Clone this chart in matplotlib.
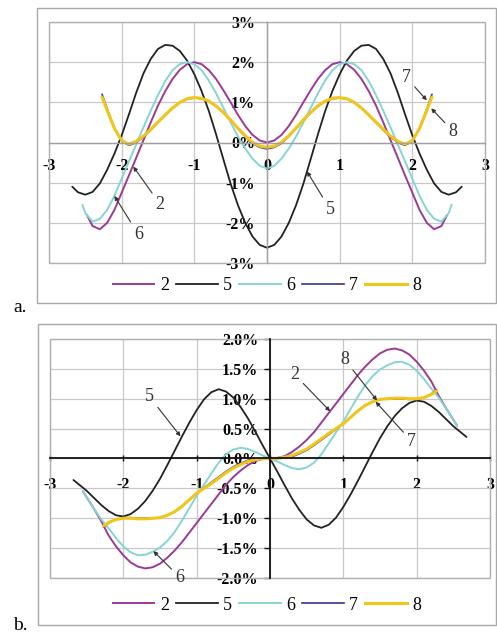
import numpy as np
import matplotlib
matplotlib.use("Agg")
import matplotlib.pyplot as plt
from matplotlib.patches import Rectangle
from matplotlib.lines import Line2D

SERIF = "Liberation Serif"


def grid(end, start):
    # sample positions: end point, 0.1 steps, end point
    inner = list(np.round(np.arange(-start, start + 0.05, 0.1), 2))
    return [-end] + inner + [end]


# ---------------- panel a (even curves, values in %) ----------------
xa_2 = grid(2.48, 2.4)
xa_5 = grid(2.68, 2.6)
xa_6 = grid(2.54, 2.5)
xa_78 = grid(2.27, 2.2)

ya_2 = [-1.80, -2.08, -2.16, -2.00, -1.68, -1.25, -0.82, -0.38, 0.06, 0.50, 0.92, 1.28, 1.58, 1.81, 1.95, 2.00,
        1.95, 1.80, 1.58, 1.30, 1.00, 0.69, 0.41, 0.19, 0.05, 0.00, 0.05, 0.19, 0.41, 0.69, 1.00, 1.30, 1.58,
        1.80, 1.95, 2.00, 1.95, 1.81, 1.58, 1.28, 0.92, 0.50, 0.06, -0.38, -0.82, -1.25, -1.68, -2.00, -2.16,
        -2.08, -1.80]
ya_5 = [-1.10, -1.24, -1.30, -1.23, -1.02, -0.68, -0.28, 0.18, 0.70, 1.24, 1.72, 2.08, 2.33, 2.43, 2.41, 2.28,
        2.04, 1.70, 1.28, 0.78, 0.20, -0.42, -1.03, -1.56, -2.00, -2.34, -2.55, -2.62, -2.55, -2.34, -2.00,
        -1.56, -1.03, -0.42, 0.20, 0.78, 1.28, 1.70, 2.04, 2.28, 2.41, 2.43, 2.33, 2.08, 1.72, 1.24, 0.70, 0.18,
        -0.28, -0.68, -1.02, -1.23, -1.30, -1.24, -1.10]
ya_6 = [-1.55, -1.76, -1.97, -1.90, -1.68, -1.33, -0.90, -0.47, -0.05, 0.38, 0.79, 1.18, 1.53, 1.80, 1.95, 2.00,
        1.95, 1.80, 1.54, 1.22, 0.86, 0.50, 0.15, -0.15, -0.40, -0.58, -0.65, -0.58, -0.40, -0.15, 0.15, 0.50,
        0.86, 1.22, 1.54, 1.80, 1.95, 2.00, 1.95, 1.80, 1.53, 1.18, 0.79, 0.38, -0.05, -0.47, -0.90, -1.33,
        -1.68, -1.90, -1.97, -1.76, -1.55]
ya_7 = [1.20, 0.84, 0.36, 0.03, -0.07, 0.00, 0.14, 0.31, 0.50, 0.68, 0.85, 0.99, 1.08, 1.11, 1.09, 1.02, 0.90,
        0.74, 0.55, 0.35, 0.15, -0.02, -0.12, -0.16, -0.12, -0.02, 0.15, 0.35, 0.55, 0.74, 0.90, 1.02, 1.09,
        1.11, 1.08, 0.99, 0.85, 0.68, 0.50, 0.31, 0.14, 0.00, -0.07, 0.03, 0.36, 0.84, 1.20]
ya_8 = [1.13, 0.80, 0.35, 0.05, -0.04, 0.03, 0.16, 0.33, 0.51, 0.69, 0.86, 1.00, 1.09, 1.12, 1.10, 1.03, 0.91,
        0.75, 0.56, 0.36, 0.17, 0.01, -0.09, -0.12, -0.09, 0.01, 0.17, 0.36, 0.56, 0.75, 0.91, 1.03, 1.10,
        1.12, 1.09, 1.00, 0.86, 0.69, 0.51, 0.33, 0.16, 0.03, -0.04, 0.05, 0.35, 0.80, 1.13]

# ---------------- panel b (odd curves, values in %) ----------------
xb_25 = grid(2.55, 2.5)
xb_5 = grid(2.68, 2.6)
xb_78 = grid(2.27, 2.2)

yb_2 = [-0.55, -0.65, -0.84, -1.05, -1.29, -1.47, -1.62, -1.74, -1.81, -1.84, -1.82, -1.76, -1.66, -1.54, -1.40,
        -1.24, -1.08, -0.92, -0.76, -0.60, -0.44, -0.31, -0.20, -0.11, -0.04, -0.01, 0.00, 0.01, 0.04, 0.11,
        0.20, 0.31, 0.44, 0.60, 0.76, 0.92, 1.08, 1.24, 1.40, 1.54, 1.66, 1.76, 1.82, 1.84, 1.81, 1.74, 1.62,
        1.47, 1.29, 1.05, 0.84, 0.65, 0.55]
yb_5 = [-0.36, -0.44, -0.54, -0.66, -0.78, -0.88, -0.95, -0.97, -0.93, -0.84, -0.71, -0.54, -0.34, -0.11, 0.13,
        0.37, 0.60, 0.81, 0.99, 1.11, 1.16, 1.12, 1.02, 0.86, 0.67, 0.45, 0.22, 0.00, -0.22, -0.45, -0.67,
        -0.86, -1.02, -1.12, -1.16, -1.11, -0.99, -0.81, -0.60, -0.37, -0.13, 0.11, 0.34, 0.54, 0.71, 0.84,
        0.93, 0.97, 0.95, 0.88, 0.78, 0.66, 0.54, 0.44, 0.36]
yb_6 = [-0.55, -0.65, -0.84, -1.02, -1.17, -1.33, -1.47, -1.57, -1.62, -1.61, -1.56, -1.49, -1.38, -1.23, -1.04,
        -0.83, -0.62, -0.44, -0.25, -0.07, 0.07, 0.15, 0.18, 0.16, 0.11, 0.05, 0.00, -0.05, -0.11, -0.16, -0.18,
        -0.15, -0.07, 0.07, 0.25, 0.44, 0.62, 0.83, 1.04, 1.23, 1.38, 1.49, 1.56, 1.61, 1.62, 1.57, 1.47, 1.33,
        1.17, 1.02, 0.84, 0.65, 0.55]
yb_7 = [-1.15, -1.08, -1.02, -0.99, -0.99, -1.00, -1.00, -1.00, -0.99, -0.95, -0.89, -0.80, -0.69, -0.58, -0.49,
        -0.40, -0.31, -0.22, -0.14, -0.08, -0.03, -0.01, 0.00, 0.00, 0.00, 0.01, 0.03, 0.08, 0.14, 0.22, 0.31,
        0.40, 0.49, 0.58, 0.69, 0.80, 0.89, 0.95, 0.99, 1.00, 1.00, 1.00, 0.99, 0.99, 1.02, 1.08, 1.15]
yb_8 = [-1.13, -1.07, -1.02, -1.00, -1.00, -1.01, -1.01, -1.00, -0.99, -0.95, -0.89, -0.80, -0.69, -0.58, -0.50,
        -0.42, -0.33, -0.24, -0.16, -0.10, -0.05, -0.02, -0.005, 0.00, 0.005, 0.02, 0.05, 0.10, 0.16, 0.24,
        0.33, 0.42, 0.50, 0.58, 0.69, 0.80, 0.89, 0.95, 0.99, 1.00, 1.01, 1.01, 1.00, 1.00, 1.02, 1.07, 1.13]

series_names = ["2", "5", "6", "7", "8"]
colors = {"2": "#9a3a96", "5": "#222222", "6": "#86d4d4", "7": "#34348f", "8": "#f2c619"}
widths = {"2": 1.4, "5": 1.3, "6": 1.4, "7": 1.2, "8": 2.2}

xticks = [-3, -2, -1, 0, 1, 2, 3]
yticks_a = [-3, -2, -1, 0, 1, 2, 3]
yticks_b = [-2.0, -1.5, -1.0, -0.5, 0.0, 0.5, 1.0, 1.5, 2.0]

W, H = 497, 635
fig = plt.figure(figsize=(W / 100, H / 100), dpi=100)

# outer chart frames
for (x0, y0, x1, y1) in [(37, 8, 496, 303), (38, 324, 496, 625)]:
    fig.add_artist(Rectangle((x0 / W, 1 - y1 / H), (x1 - x0) / W, (y1 - y0) / H, transform=fig.transFigure,
                             fill=False, ec="#a8a8a8", lw=1.0))

ax_a = fig.add_axes([49 / W, 1 - 263 / H, 436 / W, 241 / H])
ax_b = fig.add_axes([50 / W, 1 - 578 / H, 440 / W, 239 / H])


def setup(ax, yticks, fmt, axis_color, tick_len):
    ax.set_xlim(-3, 3)
    ax.set_ylim(yticks[0], yticks[-1])
    ax.set_xticks(xticks)
    ax.set_xticklabels([str(v) for v in xticks])
    ax.set_yticks(yticks)
    ax.set_yticklabels([fmt.format(v) for v in yticks])
    ax.grid(True, color="#c8c8c8", lw=0.9)
    ax.set_axisbelow(True)
    ax.spines["left"].set_position(("data", 0))
    ax.spines["bottom"].set_position(("data", 0))
    for s in ["left", "bottom"]:
        ax.spines[s].set_color(axis_color)
        ax.spines[s].set_linewidth(1.3 if tick_len else 1.0)
    ax.spines["top"].set_visible(False)
    ax.spines["right"].set_visible(False)
    ax.add_patch(Rectangle((0, 0), 1, 1, transform=ax.transAxes, fill=False, ec="#b0b0b0", lw=1.0,
                           clip_on=False, zorder=0.6))
    ax.tick_params(axis="x", length=tick_len, direction="inout", pad=10.5 if tick_len else 11,
                   color=axis_color, width=1.0)
    ax.tick_params(axis="y", length=tick_len * 0.8, direction="out", pad=(8.6 - tick_len * 0.8),
                   color=axis_color, width=1.0)
    for lab in ax.get_xticklabels() + ax.get_yticklabels():
        lab.set_fontfamily(SERIF)
        lab.set_fontweight("bold")
        lab.set_fontsize(11.5)


setup(ax_a, yticks_a, "{:.0f}%", "#a0a0a0", 0)
setup(ax_b, yticks_b, "{:.1f}%", "#111111", 5)

kw = dict(solid_joinstyle="round", solid_capstyle="round")
ax_a.plot(xa_2, ya_2, color=colors["2"], lw=widths["2"], **kw)
ax_a.plot(xa_5, ya_5, color=colors["5"], lw=widths["5"], **kw)
ax_a.plot(xa_6, ya_6, color=colors["6"], lw=widths["6"], **kw)
ax_a.plot(xa_78, ya_7, color=colors["7"], lw=widths["7"], **kw)
ax_a.plot(xa_78, ya_8, color=colors["8"], lw=widths["8"], **kw)

ax_b.plot(xb_25, yb_2, color=colors["2"], lw=widths["2"], **kw)
ax_b.plot(xb_5, yb_5, color=colors["5"], lw=widths["5"], **kw)
ax_b.plot(xb_25, yb_6, color=colors["6"], lw=widths["6"], **kw)
ax_b.plot(xb_78, yb_7, color=colors["7"], lw=widths["7"], **kw)
ax_b.plot(xb_78, yb_8, color=colors["8"], lw=widths["8"], **kw)


def note(ax, text, tip, pos):
    ax.annotate(text, xy=tip, xytext=pos, ha="center", va="center", fontsize=13, fontfamily=SERIF,
                color="#333333",
                arrowprops=dict(arrowstyle="-|>", color="#333333", lw=0.8, mutation_scale=6,
                                shrinkA=1, shrinkB=0))


note(ax_a, "7", (2.2, 1.05), (1.92, 1.61))
note(ax_a, "8", (2.26, 0.85), (2.56, 0.28))
note(ax_a, "2", (-1.84, -0.6), (-1.47, -1.54))
note(ax_a, "6", (-2.1, -1.33), (-1.77, -2.29))
note(ax_a, "5", (0.55, -0.72), (0.87, -1.67))

note(ax_b, "5", (-1.22, 0.37), (-1.64, 1.03))
note(ax_b, "2", (0.82, 0.79), (0.34, 1.4))
note(ax_b, "8", (1.46, 0.97), (1.02, 1.65))
note(ax_b, "7", (1.44, 0.95), (1.93, 0.29))
note(ax_b, "6", (-1.59, -1.55), (-1.23, -1.99))

handles = [Line2D([], [], color=colors[n], lw=widths[n]) for n in series_names]
for yc in [286, 605]:
    fig.legend(handles, series_names, loc="center", bbox_to_anchor=(267 / W, 1 - yc / H), ncol=5,
               frameon=False, prop={"family": SERIF, "size": 13}, handlelength=2.3, handletextpad=0.3,
               columnspacing=0.4)

fig.text(13 / W, 1 - 307 / H, "a.", fontsize=14, fontfamily=SERIF, va="center")
fig.text(13 / W, 1 - 626 / H, "b.", fontsize=14, fontfamily=SERIF, va="center")

fig.savefig("out.png", dpi=100)
